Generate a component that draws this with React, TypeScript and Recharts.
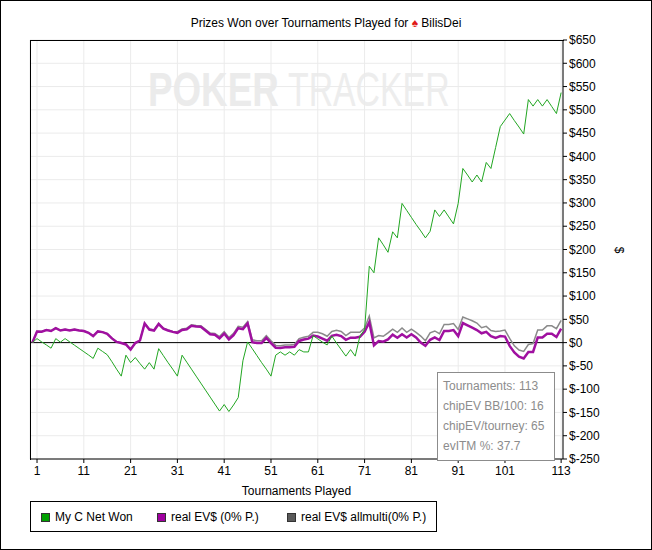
import { CartesianGrid, Line, LineChart, ReferenceLine, XAxis, YAxis } from 'recharts'

// cumulative results per tournament, index 0 = start
const netWon = [
  0, 8.6, 1.5, -5, -12, 8.6, 1, 8.6, 1.5, -5.5,
  -12.5, -19.5, -26.5, -34, -12, -19, -26, -41, -57, -72,
  -27, -43, -32, -45, -57, -43, -57, -13, -28, -43,
  -57, -72, -27, -42, -57, -72, -87, -102, -117, -132,
  -147, -133, -148, -134, -118, -39, 1.4, -13, -28, -43,
  -57, -72, -27, -20, -27, -20, -27, -15, -20, -20,
  15, 8, 1, -5, 14, -1, -15, -29, -15, -29,
  14, 28, 164, 150, 225, 210, 194, 238, 225, 299,
  284, 269, 254, 240, 225, 239, 285, 271, 285, 270,
  255, 299, 374, 360, 345, 360, 345, 387, 374, 419,
  464, 478, 492, 477, 463, 448, 522, 508, 522, 508,
  522, 507, 492, 537,
]

const realEv = [
  0, 24, 23.5, 27, 25, 31, 26, 28, 26, 28,
  26, 25, 21, 14, 24, 22.5, 19, 9, 1.5, -1,
  -4, -15, -1, 4.5, 41, 28, 26, 40, 30, 26,
  23, 21, 27, 28.5, 36, 34.5, 34, 26, 18, 17,
  9, 19.5, 7, 16, 31, 29, 41, 1, -1, -1,
  10, -1, -11, -11.5, -10, -10, -9, 3.6, 6.5, 8.6,
  15, 13, 8.5, 4, 14.5, 17, 14, 6, 10.5, 10.5,
  12.5, 23, 44, -6, 3.5, 2, 7, 17, 10.5, 18,
  11, 18, 11, 0, -7, 6, 11, 5.5, 25, 25,
  27, 14, 42, 37, 32, 27, 20, 23, 14, 10,
  14, 13, -7, -21, -30, -34, -20, -20, 11, 11,
  19, 19, 12, 30,
]

const realEvAllMulti = [
  0, 24.5, 24, 27.5, 25.5, 31.5, 26.5, 28.5, 26.5, 28.5,
  26.5, 25.5, 21.5, 14.5, 24.5, 23, 19.5, 9.5, 2, -0.5,
  -3.5, -14.5, -0.5, 5, 42, 29, 27, 41, 31, 27,
  24, 23.5, 29.5, 31, 38.5, 37, 36.5, 28.5, 20.5, 19.5,
  13, 23.5, 11, 20, 35, 33, 45, 6, 4, 4,
  15, 4, -6, -6.5, -5, -5, -4, 8.6, 11.5, 13.6,
  22, 22, 19, 13.6, 24, 26.5, 24, 15, 22, 22,
  22, 31.5, 57, 10, 15, 13.5, 21, 29, 22, 31.5,
  22, 29, 22, 14, 4, 21, 25, 19, 39, 39,
  41, 28, 55, 51, 47, 42, 32, 35, 26, 24,
  25, 27, 9, -7, -16, -19, -4, -2, 27, 27,
  36, 36, 30, 48,
]

const xTicks = [1, 11, 21, 31, 41, 51, 61, 71, 81, 91, 101, 113]
const yTicks = [-250, -200, -150, -100, -50, 0, 50, 100, 150, 200, 250, 300, 350, 400, 450, 500, 550, 600, 650]

const statLines = ['Tournaments: 113', 'chipEV BB/100: 16', 'chipEV/tourney: 65', 'evITM %: 37.7']

const GREEN = '#22a622'
const PURPLE = '#a010a0'
const GRAY = '#8a8a8a'
const FONT = '"Liberation Sans", Arial, sans-serif'

const data = netWon.map((v, i) => ({
  game: i,
  net: v,
  ev: realEv[i],
  evMulti: realEvAllMulti[i],
}))

const legendItems = [
  { label: 'My C Net Won', swatch: '#00a000', x: 10 },
  { label: 'real EV$ (0% P.)', swatch: '#a000a0', x: 126 },
  { label: 'real EV$ allmulti(0% P.)', swatch: '#5a5a5a', x: 256 },
]

// condensed logo words: squeezed horizontally so they fit the watermark width
const wordStyle = {
  position: 'absolute' as const,
  top: 65,
  fontSize: 49,
  lineHeight: '49px',
  whiteSpace: 'nowrap' as const,
  transformOrigin: '0 0',
}

export default function App() {
  const tickStyle = { fill: '#000', fontSize: 12, fontFamily: FONT }
  return (
    <div style={{ position: 'relative', width: 652, height: 550, background: '#fff', fontFamily: FONT, overflow: 'hidden' }}>
      <style>{'body{margin:0}'}</style>

      <div style={{ ...wordStyle, left: 148, fontWeight: 'bold', color: '#ebebeb', transform: 'scaleX(0.75)' }}>POKER</div>
      <div style={{ ...wordStyle, left: 288, color: '#ededed', transform: 'scaleX(0.69)' }}>TRACKER</div>

      <div style={{ position: 'absolute', top: 15, left: 0, width: 652, textAlign: 'center', fontSize: 12, lineHeight: '16px' }}>
        Prizes Won over Tournaments Played for <span style={{ color: '#e01818' }}>♠</span> BilisDei
      </div>

      <div style={{ position: 'absolute', left: 0, top: 0 }}>
        <LineChart width={652} height={550} data={data} margin={{ top: 40, right: 27, bottom: 55, left: 30 }}>
          <CartesianGrid stroke="#ebebeb" />
          <XAxis
            dataKey="game"
            type="number"
            domain={[-0.5, 113.4]}
            ticks={xTicks}
            interval={0}
            tick={tickStyle}
            tickSize={4}
            tickMargin={3}
            stroke="#000"
            height={36}
            label={{ value: 'Tournaments Played', position: 'insideBottom', offset: 0, fill: '#000', fontSize: 12 }}
          />
          <YAxis
            orientation="right"
            type="number"
            domain={[-250, 650]}
            ticks={yTicks}
            interval={0}
            tick={tickStyle}
            tickSize={4}
            tickMargin={2}
            stroke="#000"
            width={62}
            tickFormatter={(v) => `$${v}`}
          />
          <ReferenceLine y={0} stroke="#000" strokeWidth={1} />
          <Line dataKey="evMulti" type="linear" stroke={GRAY} strokeWidth={1.5} dot={false} isAnimationActive={false} />
          <Line dataKey="ev" type="linear" stroke={PURPLE} strokeWidth={2.5} dot={false} isAnimationActive={false} />
          <Line dataKey="net" type="linear" stroke={GREEN} strokeWidth={1} dot={false} isAnimationActive={false} />
        </LineChart>
      </div>

      {/* plot frame top/left */}
      <div style={{ position: 'absolute', left: 30, top: 40, width: 533, height: 419, borderTop: '1px solid #000', borderLeft: '1px solid #000', pointerEvents: 'none' }} />

      <div style={{ position: 'absolute', left: 616, top: 243, fontSize: 12, transform: 'rotate(90deg)' }}>$</div>

      <div style={{ position: 'absolute', left: 437, top: 372, width: 116, height: 87, border: '1px solid #8c8c8c', background: '#fff', color: '#8c8c8c', fontSize: 12 }}>
        {statLines.map((s, i) => (
          <div key={i} style={{ position: 'absolute', left: 5, top: 4 + i * 20, lineHeight: '18px', whiteSpace: 'nowrap' }}>{s}</div>
        ))}
      </div>

      <div style={{ position: 'absolute', left: 30, top: 501, width: 405, height: 29, border: '1px solid #000', fontSize: 12 }}>
        {legendItems.map((it) => (
          <div key={it.label} style={{ position: 'absolute', left: it.x, top: 8, display: 'flex', alignItems: 'center', whiteSpace: 'nowrap' }}>
            <span style={{ width: 7, height: 7, background: it.swatch, border: '1px solid #333', display: 'inline-block', marginRight: 5 }} />
            <span style={{ lineHeight: '14px' }}>{it.label}</span>
          </div>
        ))}
      </div>

      <div style={{ position: 'absolute', left: 0, top: 0, width: 650, height: 548, border: '1px solid #000', pointerEvents: 'none' }} />
    </div>
  )
}
